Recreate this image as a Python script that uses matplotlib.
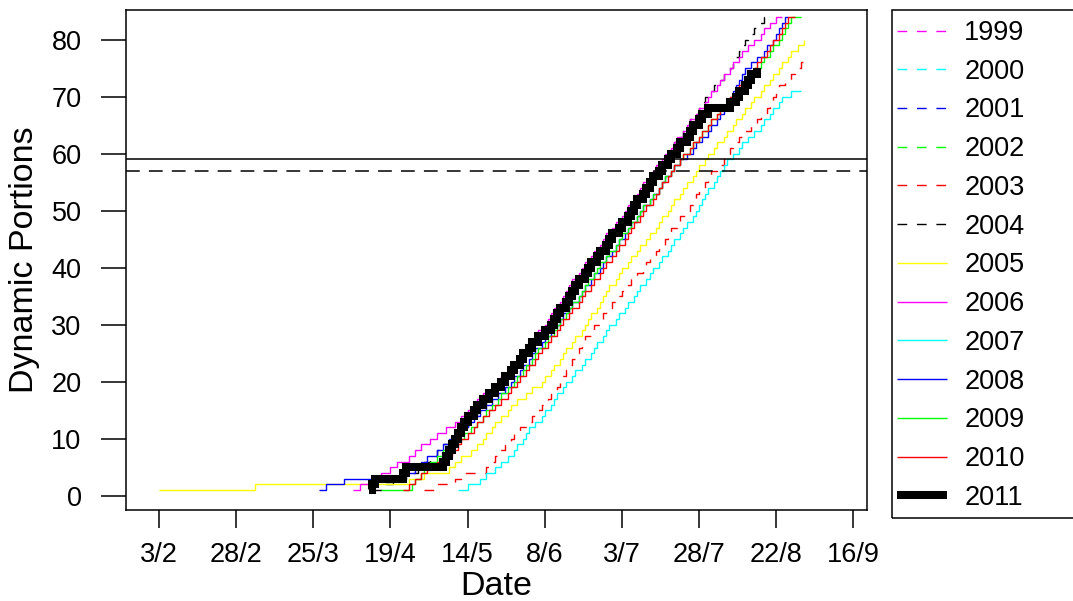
import matplotlib
matplotlib.use("Agg")
import matplotlib.pyplot as plt
from matplotlib.patches import Rectangle

plt.rcParams['font.family'] = ['Liberation Sans', 'DejaVu Sans']

# day of year on which each dynamic portion was added (count = position in list)
days_1999 = []
days_2000 = []
days_2001 = []
days_2002 = []
days_2003 = [120, 124, 130, 132, 140, 141, 143, 144, 146, 148, 149, 151, 153, 155, 157, 158, 160, 161, 163, 164,
             165, 166, 167, 168, 169, 170, 171, 172, 174, 175, 177, 178, 180, 181, 183, 184, 186, 187, 189, 191,
             192, 193, 195, 196, 198, 199, 200, 202, 203, 205, 206, 207, 208, 209, 211, 212, 213, 215, 217,
             218, 219, 220, 222, 224, 226, 228, 229, 231, 232, 233, 234, 235, 237, 239, 240, 242, 243]
days_2004 = [103, 107, 110, 114, 118, 120, 122, 124, 126, 128, 130, 132, 134, 135, 137, 139, 140, 142, 143, 145,
             146, 148, 149, 151, 152, 154, 155, 157, 158, 160, 161, 162, 163, 165, 166, 167, 168, 169, 171, 172,
             173, 175, 176, 178, 179, 180, 182, 183, 185, 186, 187, 189, 190, 191, 192, 193, 194, 196, 197, 199,
             200, 201, 203, 204, 205, 206, 207, 209, 210, 211, 212, 214, 216, 217, 219, 220, 221, 222, 223, 224,
             225, 227, 228, 230]
days_2005 = [34, 65, 115, 120, 128, 130, 132, 135, 137, 139, 140, 142, 143, 145, 147, 148, 150, 153, 155, 158,
             159, 161, 162, 164, 165, 166, 168, 169, 171, 172, 173, 174, 176, 177, 178, 179, 180, 182, 183, 184,
             186, 187, 189, 190, 192, 193, 195, 196, 197, 199, 200, 201, 203, 204, 205, 207, 208, 209, 211,
             212, 214, 215, 217, 218, 220, 221, 223, 224, 226, 227, 229, 230, 232, 233, 235, 236, 238, 239, 241, 243]
days_2006 = [97, 99, 103, 106, 109, 111, 115, 117, 119, 122, 124, 127, 130, 132, 134, 136, 137, 139, 142, 144,
             145, 147, 148, 150, 151, 153, 154, 156, 157, 159, 160, 161, 162, 164, 165, 166, 167, 168, 170, 171,
             172, 174, 175, 177, 178, 179, 181, 182, 184, 185, 186, 188, 189, 190, 191, 193, 194, 195, 197,
             198, 200, 201, 202, 204, 205, 206, 208, 209, 211, 212, 213, 215, 216, 217, 219, 220, 222, 223, 225,
             227, 229, 230, 232, 234]
days_2007 = [131, 134, 138, 140, 143, 145, 147, 149, 150, 152, 153, 154, 156, 158, 159, 161, 162, 163, 165, 166,
             168, 169, 171, 172, 174, 175, 176, 178, 179, 180, 182, 183, 185, 186, 188, 189, 190, 192, 193, 194,
             196, 197, 199, 200, 201, 203, 204, 205, 207, 208, 209, 210, 211, 212, 214, 215, 216, 217, 218,
             220, 222, 223, 225, 227, 229, 230, 232, 233, 235, 236, 239]
days_2008 = [86, 88, 94, 113, 117, 119, 121, 124, 126, 128, 130, 132, 134, 136, 138, 140, 142, 144, 146, 148,
             149, 151, 152, 154, 155, 156, 158, 159, 161, 162, 164, 165, 167, 168, 170, 171, 172, 174, 175, 177,
             178, 179, 181, 182, 183, 185, 186, 187, 189, 190, 191, 193, 194, 196, 197, 198, 200, 201, 203,
             205, 207, 208, 210, 212, 213, 215, 216, 217, 218, 219, 220, 221, 222, 223, 224, 226, 228, 230, 231,
             233, 234, 235, 236, 237]
days_2009 = [106, 116, 117, 119, 120, 122, 124, 126, 129, 131, 133, 135, 137, 139, 140, 142, 144, 145, 147, 149,
             150, 152, 153, 155, 156, 157, 159, 160, 162, 163, 164, 166, 167, 168, 170, 171, 172, 173, 175, 176,
             177, 179, 180, 182, 183, 184, 186, 187, 189, 190, 191, 193, 194, 196, 197, 198, 200, 201, 203,
             204, 206, 207, 209, 210, 212, 213, 215, 216, 218, 220, 221, 223, 224, 226, 227, 229, 230, 232, 233,
             235, 236, 237, 238, 239]
days_2010 = [113, 115, 117, 119, 121, 124, 127, 129, 131, 132, 134, 136, 137, 139, 141, 143, 145, 147, 148, 150,
             151, 153, 154, 156, 157, 158, 160, 161, 163, 164, 165, 167, 168, 170, 171, 172, 174, 175, 177, 178,
             179, 181, 182, 183, 185, 186, 187, 188, 190, 191, 192, 194, 195, 196, 197, 199, 200, 201, 203,
             204, 206, 207, 209, 210, 212, 213, 215, 216, 218, 219, 221, 222, 224, 225, 227, 228, 229, 231, 232,
             233, 235, 236, 237, 238]
days_2011 = [102, 103, 104, 113, 114, 126, 127, 128, 129, 130, 131, 132, 133, 134, 136, 137, 139, 141, 143, 145,
             146, 148, 149, 151, 152, 154, 155, 157, 159, 161, 162, 163, 164, 166, 167, 168, 169, 170, 172, 173,
             174, 176, 177, 179, 180, 181, 183, 184, 186, 187, 188, 189, 191, 192, 193, 194, 196, 197, 199, 200,
             202, 203, 205, 206, 207, 209, 210, 212, 219, 221, 222, 224, 225, 226, 228]

# last day of each record, where the line runs on flat (None = stops at last step)
end_days = {1999: None, 2000: None, 2001: None, 2002: None, 2003: None, 2004: 231, 2005: None,
            2006: 236, 2007: 242, 2008: 238, 2009: 242, 2010: 240, 2011: None}

years = [1999, 2000, 2001, 2002, 2003, 2004, 2005, 2006, 2007, 2008, 2009, 2010, 2011]
all_days = [days_1999, days_2000, days_2001, days_2002, days_2003, days_2004, days_2005,
            days_2006, days_2007, days_2008, days_2009, days_2010, days_2011]
colors = ['#FF00FF', '#00FFFF', '#0000FF', '#00FF00', '#FF0000', '#000000', '#FFFF00',
          '#FF00FF', '#00FFFF', '#0000FF', '#00FF00', '#FF0000', '#000000']
dashed = [True] * 6 + [False] * 7

target_line = 59
target_dashed = 57

tick_days = [34, 59, 84, 109, 134, 159, 184, 209, 234, 259]
tick_labels = ['3/2', '28/2', '25/3', '19/4', '14/5', '8/6', '3/7', '28/7', '22/8', '16/9']

W, H = 1073, 601
fig = plt.figure(figsize=(W / 100, H / 100), dpi=100)
ax = fig.add_axes([126 / W, 1 - 510 / H, (867 - 126) / W, 500 / H])

handles = []
for yr, days, col, dsh in zip(years, all_days, colors, dashed):
    x = list(days)
    y = list(range(1, len(days) + 1))
    if end_days[yr] is not None and days:
        x.append(end_days[yr])
        y.append(len(days))
    lw = 5.8 if yr == 2011 else 1.0
    line, = ax.plot(x, y, drawstyle='steps-post', color=col, lw=lw,
                    solid_capstyle='butt', solid_joinstyle='miter', label=str(yr))
    if dsh:
        line.set_dashes((7, 7))
    handles.append(line)

ax.axhline(target_line, color='black', lw=1.1)
ax.axhline(target_dashed, color='black', lw=1.1, dashes=(9, 6))

ax.set_xlim(23.3, 263.5)
ax.set_ylim(-2.5, 85.2)

ax.set_xticks(tick_days)
ax.set_xticklabels(tick_labels)
ax.set_yticks(range(0, 81, 10))
ax.tick_params(axis='x', length=13, width=1.1, labelsize=19.5, pad=10)
ax.tick_params(axis='y', length=18, width=1.1, labelsize=19.5, pad=14)
for s in ax.spines.values():
    s.set_linewidth(1.1)

ax.set_xlabel('Date', fontsize=24.5, labelpad=2)
ax.set_ylabel('Dynamic Portions', fontsize=24.5, labelpad=8)

leg = fig.legend(handles=handles, loc='upper left', bbox_to_anchor=(897 / W, 1 - 20 / H),
                 frameon=False, fontsize=19.5, handlelength=1.85, handletextpad=0.63,
                 labelspacing=0.47, borderpad=0.0, borderaxespad=0.0)
fig.add_artist(Rectangle((892 / W, 1 - 518 / H), 300 / W, 508 / H, transform=fig.transFigure,
                         fill=False, edgecolor='black', lw=1.1))

fig.savefig('out.png', dpi=100)
